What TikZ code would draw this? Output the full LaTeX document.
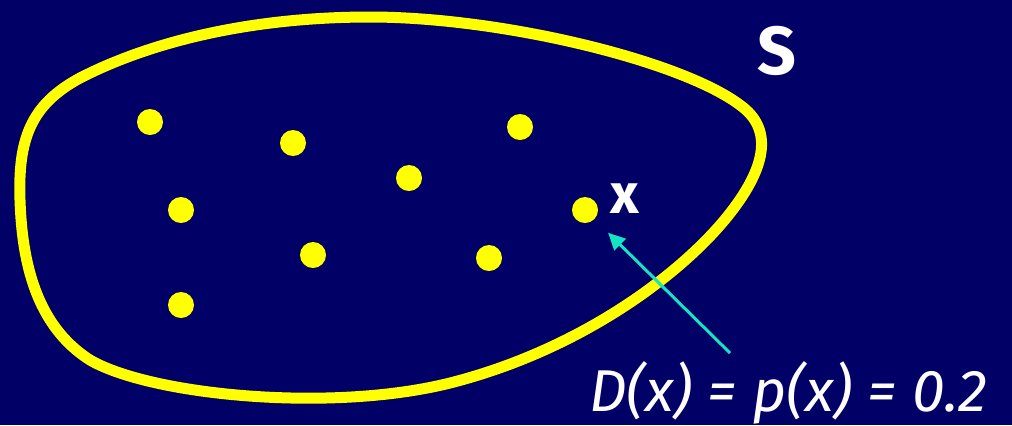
\documentclass[tikz,border=0pt]{standalone}
\usepackage{fontspec}
\setmainfont{Fira Sans}
\usepackage{tikz}
\usetikzlibrary{arrows.meta,positioning}
\definecolor{navy}{RGB}{0,0,102}
\definecolor{sety}{RGB}{255,255,0}
\definecolor{ptrc}{RGB}{20,228,196}

\begin{document}
\begin{tikzpicture}[
  x=0.5pt,y=-0.5pt,
  dot/.style={circle,fill=sety,inner sep=0pt,minimum size=13pt},
  lbl/.style={text=white,inner sep=0pt},
  ptr/.style={-{Triangle[length=8.5pt,width=8pt]},ptrc,line width=1.5pt},
]
% background
\fill[navy] (0,0) rectangle (1012,425);
\useasboundingbox (0,0) rectangle (1012,425);
% the set S
\draw[sety,line width=5.5pt] (20,200)
  .. controls (18,140) and (30,105) .. (80,78)
  .. controls (150,42) and (250,17) .. (370,17)
  .. controls (500,17) and (680,60) .. (740,105)
  .. controls (775,130) and (765,170) .. (727,217)
  .. controls (680,275) and (580,350) .. (450,383)
  .. controls (330,413) and (150,395) .. (90,360)
  .. controls (35,325) and (22,260) .. (20,200) -- cycle;
\node[lbl,font=\bfseries\fontsize{34}{34}\selectfont] (S) at (777,51) {S};
% points in S
\node[dot] (p1) at (150,122) {};
\node[dot] (p2) at (293,143) {};
\node[dot] (p3) at (520,127) {};
\node[dot] (p4) at (409,178) {};
\node[dot] (p5) at (181,210) {};
\node[dot] (px) at (585,210) {};
\node[dot] (p6) at (313,255) {};
\node[dot] (p7) at (489,258) {};
\node[dot] (p8) at (181,305) {};
% the point x
\node[lbl,font=\bfseries\fontsize{28}{28}\selectfont] (x) at (625,199) {x};
% label
\node[lbl,font=\itshape\fontsize{29.5}{30}\selectfont] (D) at (788,393) {D(x) = p(x) = 0.2};
\coordinate (tail) at (730,353);
\draw[ptr,shorten >=9.5pt] (tail) -- (px);
\end{tikzpicture}
\end{document}
